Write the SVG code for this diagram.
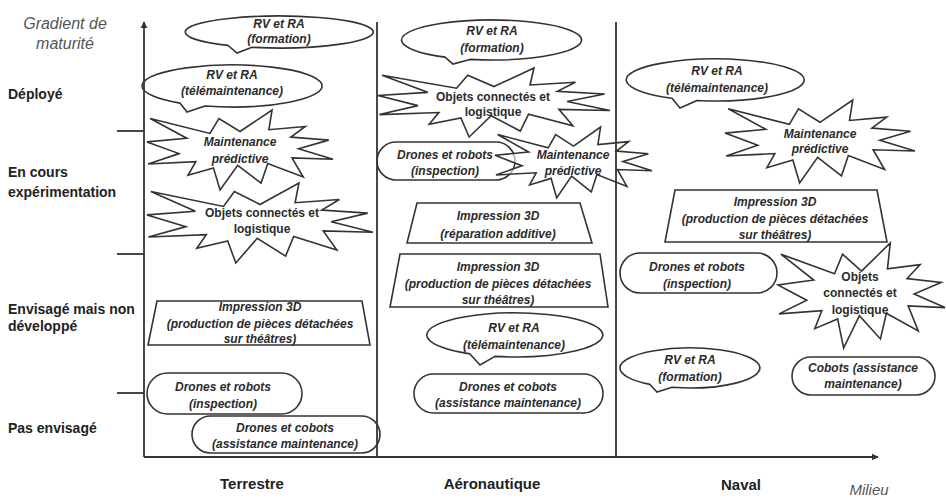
<svg xmlns="http://www.w3.org/2000/svg" xmlns:xlink="http://www.w3.org/1999/xlink" width="946" height="499" viewBox="0 0 946 499">
<style>
.shape{fill:#fff;stroke:#333;stroke-width:1.6}
.sv{vector-effect:non-scaling-stroke}
.t{font-family:"Liberation Sans",Arial,sans-serif;font-size:12px;font-weight:bold;font-style:italic;fill:#2b2b2b;text-anchor:middle}
.tu{font-style:normal}
.lab{font-family:"Liberation Sans",Arial,sans-serif;font-size:14px;font-weight:bold;fill:#222}
.ax{font-family:"Liberation Sans",Arial,sans-serif;font-size:16px;font-style:italic;fill:#555;text-anchor:middle}
.col{font-family:"Liberation Sans",Arial,sans-serif;font-size:15px;font-weight:bold;fill:#222;text-anchor:middle}
.line{stroke:#333;stroke-width:1.8;fill:none}
</style>
<defs>
<path id="star" class="shape sv" d="M10800,5800 L14522,0 L14155,5325 L18380,4457 L16702,7315 L21097,8137 L17607,10475 L21600,13290 L16837,12942 L18145,18095 L14020,14457 L13247,19737 L10532,14935 L8485,21600 L7715,15627 L4762,17617 L5667,13937 L135,14587 L3722,11775 L0,8615 L4627,7617 L370,2295 L7312,6320 L8352,2295 Z"/>
<marker id="arr" viewBox="0 0 10 10" refX="9" refY="5" markerWidth="4" markerHeight="4" orient="auto" markerUnits="strokeWidth">
<path d="M0,0 L10,5 L0,10 Z" fill="#333"/>
</marker>
</defs>

<g id="labels">
<text class="ax" x="65" y="29">Gradient de</text>
<text class="ax" x="65" y="49">maturité</text>
<text class="lab" x="8" y="99">Déployé</text>
<text class="lab" x="8" y="177">En cours</text>
<text class="lab" x="8" y="197">expérimentation</text>
<text class="lab" x="8" y="314">Envisagé mais non</text>
<text class="lab" x="8" y="331">développé</text>
<text class="lab" x="8" y="433">Pas envisagé</text>
<text class="col" x="252" y="489">Terrestre</text>
<text class="col" x="492" y="489">Aéronautique</text>
<text class="col" x="741" y="490">Naval</text>
<text class="ax" x="869" y="495" style="font-size:15px">Milieu</text>
</g>

<!-- Terrestre -->
<g id="t-rv-formation">
<path class="shape" d="M252,47.3 L237,53 L228,45.4 A94,16 0 1 1 252,47.3 Z"/>
<text class="t" x="279" y="28">RV et RA</text>
<text class="t" x="279" y="43">(formation)</text>
</g>
<g id="t-rv-telemaintenance">
<path class="shape" d="M205,106 L187,112 L180,103.1 A90,21 0 1 1 205,106 Z"/>
<text class="t" x="232" y="79">RV et RA</text>
<text class="t" x="232" y="95">(télémaintenance)</text>
</g>
<g id="t-maintenance-predictive">
<use xlink:href="#star" href="#star" transform="translate(147,110) scale(0.008611,0.003704)"/>
<text class="t" x="240" y="146">Maintenance</text>
<text class="t" x="240" y="163">prédictive</text>
</g>
<g id="t-objets-connectes">
<use xlink:href="#star" href="#star" transform="translate(147,183) scale(0.010463,0.003704)"/>
<text class="t tu" x="262" y="217">Objets connectés et</text>
<text class="t tu" x="262" y="233">logistique</text>
</g>
<g id="t-impression-3d">
<polygon class="shape" points="157,301 362,301 370,345 148,345"/>
<text class="t" x="260" y="311">Impression 3D</text>
<text class="t" x="260" y="328">(production de pièces détachées</text>
<text class="t" x="260" y="343">sur théâtres)</text>
</g>
<g id="t-drones-robots">
<rect class="shape" x="147" y="373" width="155" height="41" rx="20.5"/>
<text class="t" x="223" y="391">Drones et robots</text>
<text class="t" x="223" y="408">(inspection)</text>
</g>
<g id="t-drones-cobots">
<rect class="shape" x="192" y="416" width="188" height="37" rx="18.5"/>
<text class="t" x="285" y="432">Drones et cobots</text>
<text class="t" x="285" y="448">(assistance maintenance)</text>
</g>

<!-- Aeronautique -->
<g id="a-rv-formation">
<path class="shape" d="M470,59.4 L453,64 L445,57.1 A90,20 0 1 1 470,59.4 Z"/>
<text class="t" x="492" y="35">RV et RA</text>
<text class="t" x="492" y="52">(formation)</text>
</g>
<g id="a-objets-connectes">
<use xlink:href="#star" href="#star" transform="translate(378,68) scale(0.010741,0.003194)"/>
<text class="t tu" x="493" y="101">Objets connectés et</text>
<text class="t tu" x="493" y="116">logistique</text>
</g>
<g id="a-drones-robots">
<rect class="shape" x="377" y="142" width="138" height="38" rx="19"/>
<text class="t" x="445" y="159">Drones et robots</text>
<text class="t" x="445" y="175">(inspection)</text>
</g>
<g id="a-maintenance-predictive">
<use xlink:href="#star" href="#star" style="fill-opacity:0.6" transform="translate(495,127) scale(0.007269,0.003287)"/>
<text class="t" x="573" y="159">Maintenance</text>
<text class="t" x="573" y="175">prédictive</text>
</g>
<g id="a-impression-reparation">
<polygon class="shape" points="417,203 580,203 592,243 407,243"/>
<text class="t" x="498" y="220">Impression 3D</text>
<text class="t" x="498" y="238">(réparation additive)</text>
</g>
<g id="a-impression-production">
<polygon class="shape" points="400,254 600,254 608,307 390,307"/>
<text class="t" x="498" y="271">Impression 3D</text>
<text class="t" x="498" y="288">(production de pièces détachées</text>
<text class="t" x="498" y="304">sur théâtres)</text>
</g>
<g id="a-rv-telemaintenance">
<path class="shape" d="M495,356.4 L480,365 L470,353.9 A88,22 0 1 1 495,356.4 Z"/>
<text class="t" x="514" y="332">RV et RA</text>
<text class="t" x="514" y="349">(télémaintenance)</text>
</g>
<g id="a-drones-cobots">
<rect class="shape" x="414" y="374" width="189" height="39" rx="19.5"/>
<text class="t" x="508" y="391">Drones et cobots</text>
<text class="t" x="508" y="407">(assistance maintenance)</text>
</g>

<!-- Naval -->
<g id="n-rv-telemaintenance">
<path class="shape" d="M697,100.5 L680,108 L672,98.3 A89,21 0 1 1 697,100.5 Z"/>
<text class="t" x="717" y="75">RV et RA</text>
<text class="t" x="717" y="92">(télémaintenance)</text>
</g>
<g id="n-maintenance-predictive">
<use xlink:href="#star" href="#star" transform="translate(725,100) scale(0.008796,0.003843)"/>
<text class="t" x="820" y="138">Maintenance</text>
<text class="t" x="820" y="153">prédictive</text>
</g>
<g id="n-impression-3d">
<polygon class="shape" points="675,190 877,190 887,242 665,242"/>
<text class="t" x="775" y="206">Impression 3D</text>
<text class="t" x="775" y="223">(production de pièces détachées</text>
<text class="t" x="775" y="239">sur théâtres)</text>
</g>
<g id="n-drones-robots">
<rect class="shape" x="620" y="253" width="157" height="40" rx="20"/>
<text class="t" x="697" y="271">Drones et robots</text>
<text class="t" x="697" y="288">(inspection)</text>
</g>
<g id="n-objets-connectes">
<use xlink:href="#star" href="#star" transform="translate(778,243) scale(0.007731,0.004861)"/>
<text class="t tu" x="860" y="281">Objets</text>
<text class="t tu" x="860" y="297">connectés et</text>
<text class="t tu" x="860" y="314">logistique</text>
</g>
<g id="n-rv-formation">
<path class="shape" d="M672,387.3 L657,392 L650,384.4 A70,20 0 1 1 672,387.3 Z"/>
<text class="t" x="690" y="364">RV et RA</text>
<text class="t" x="690" y="381">(formation)</text>
</g>
<g id="n-cobots">
<rect class="shape" x="792" y="357" width="143" height="38" rx="19"/>
<text class="t" x="863" y="372">Cobots (assistance</text>
<text class="t" x="863" y="388">maintenance)</text>
</g>

<g id="connectors">
<line class="line" x1="144" y1="457" x2="144" y2="22" marker-end="url(#arr)"/>
<line class="line" x1="144" y1="457" x2="878" y2="457" marker-end="url(#arr)"/>
<line class="line" x1="377" y1="22" x2="377" y2="457"/>
<line class="line" x1="616" y1="22" x2="616" y2="457"/>
<line class="line" x1="117" y1="131" x2="144" y2="131"/>
<line class="line" x1="117" y1="254" x2="144" y2="254"/>
<line class="line" x1="117" y1="393" x2="144" y2="393"/>
</g>
</svg>
